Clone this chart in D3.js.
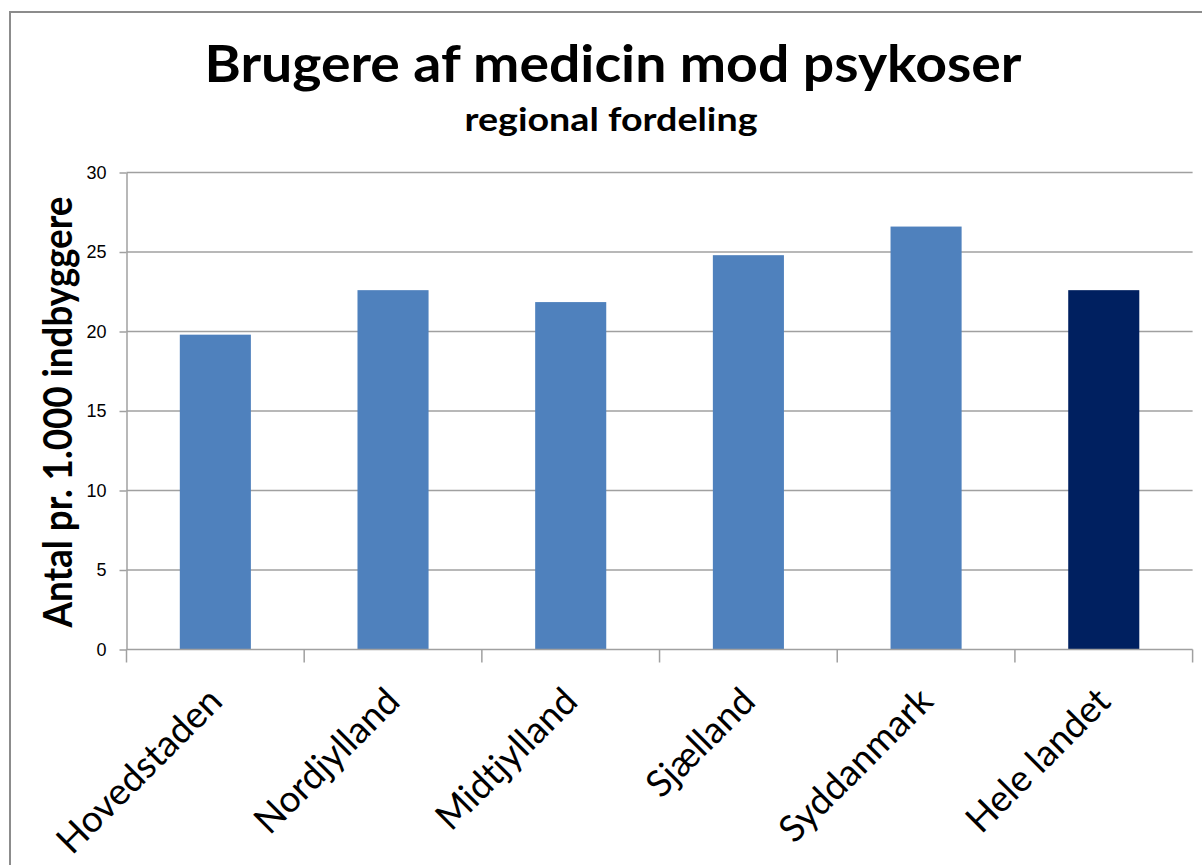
<!DOCTYPE html>
<html lang="da">
<head>
<meta charset="UTF-8">
<title>Brugere af medicin mod psykoser</title>
<script src="https://d3js.org/d3.v7.min.js"></script>
<style>
  html, body { margin: 0; padding: 0; background: #fff; }
  svg { display: block; font-family: Lato, "Open Sans", sans-serif; }
  .grid line { stroke: #a0a0a0; stroke-width: 1.5px; }
  .axis path, .axis line { stroke: #a0a0a0; stroke-width: 1.5px; }
  .axis text { fill: #000; }
</style>
</head>
<body>
<svg id="chart"></svg>
<script>
  // data
  const regions = ["Hovedstaden", "Nordjylland", "Midtjylland", "Sjælland", "Syddanmark", "Hele landet"];
  const users = [19.8, 22.6, 21.85, 24.8, 26.6, 22.6];
  const barColors = ["#4f81bd", "#4f81bd", "#4f81bd", "#4f81bd", "#4f81bd", "#002060"];
  const yTicks = [0, 5, 10, 15, 20, 25, 30];

  const width = 1202, height = 865;
  const plot = { left: 126.5, right: 1192.6, top: 172.5, bottom: 649.5 };

  const svg = d3.select("#chart").attr("width", width).attr("height", height);

  // chart frame (only top and left edges fall inside the picture)
  svg.append("rect")
    .attr("x", 10).attr("y", 12)
    .attr("width", 1300).attr("height", 1000)
    .attr("fill", "#fff")
    .attr("stroke", "#8c8c8c")
    .attr("stroke-width", 2);

  const x = d3.scaleBand().domain(regions).range([plot.left, plot.right]).padding(0);
  const y = d3.scaleLinear().domain([0, 30]).range([plot.bottom, plot.top]);

  // horizontal gridlines
  svg.append("g").attr("class", "grid")
    .selectAll("line")
    .data(yTicks.filter(d => d > 0))
    .enter().append("line")
    .attr("x1", plot.left).attr("x2", plot.right)
    .attr("y1", d => y(d)).attr("y2", d => y(d));

  // y axis
  const yAxis = svg.append("g").attr("class", "axis")
    .attr("transform", `translate(${plot.left},0)`)
    .call(d3.axisLeft(y).tickValues(yTicks).tickSize(7).tickSizeOuter(0).tickPadding(13));
  yAxis.selectAll("text").style("font-size", "18px");

  // bars
  const barW = x.bandwidth() * 0.4;
  svg.append("g")
    .selectAll("rect")
    .data(users)
    .enter().append("rect")
    .attr("x", (d, i) => x(regions[i]) + (x.bandwidth() - barW) / 2)
    .attr("y", d => y(d))
    .attr("width", barW)
    .attr("height", d => y(0) - y(d))
    .attr("fill", (d, i) => barColors[i]);

  // x axis: ticks sit on category boundaries
  const xg = svg.append("g").attr("class", "axis");
  xg.append("line")
    .attr("x1", plot.left).attr("x2", plot.right)
    .attr("y1", plot.bottom).attr("y2", plot.bottom);
  const bounds = regions.map(r => x(r)).concat([x(regions[regions.length - 1]) + x.bandwidth()]);
  xg.selectAll("line.tick")
    .data(bounds)
    .enter().append("line")
    .attr("class", "tick")
    .attr("x1", d => d).attr("x2", d => d)
    .attr("y1", plot.bottom).attr("y2", plot.bottom + 13);

  // rotated category labels
  svg.append("g")
    .selectAll("text")
    .data(regions)
    .enter().append("text")
    .attr("transform", d => `translate(${x(d) + x.bandwidth() / 2 + 9},${plot.bottom + 54}) rotate(-45)`)
    .attr("text-anchor", "end")
    .style("font-size", "37px")
    .text(d => d);

  // y axis title
  svg.append("text")
    .attr("transform", `translate(72,412) rotate(-90)`)
    .attr("text-anchor", "middle")
    .attr("textLength", 431)
    .attr("lengthAdjust", "spacingAndGlyphs")
    .style("font-size", "40px")
    .style("font-weight", "bold")
    .text("Antal pr. 1.000 indbyggere");

  // titles
  svg.append("text")
    .attr("x", 613).attr("y", 82)
    .attr("text-anchor", "middle")
    .attr("textLength", 817)
    .attr("lengthAdjust", "spacingAndGlyphs")
    .style("font-size", "51px")
    .style("font-weight", "bold")
    .text("Brugere af medicin mod psykoser");

  svg.append("text")
    .attr("x", 611).attr("y", 131)
    .attr("text-anchor", "middle")
    .attr("textLength", 293)
    .attr("lengthAdjust", "spacingAndGlyphs")
    .style("font-size", "32px")
    .style("font-weight", "bold")
    .text("regional fordeling");
</script>
</body>
</html>
